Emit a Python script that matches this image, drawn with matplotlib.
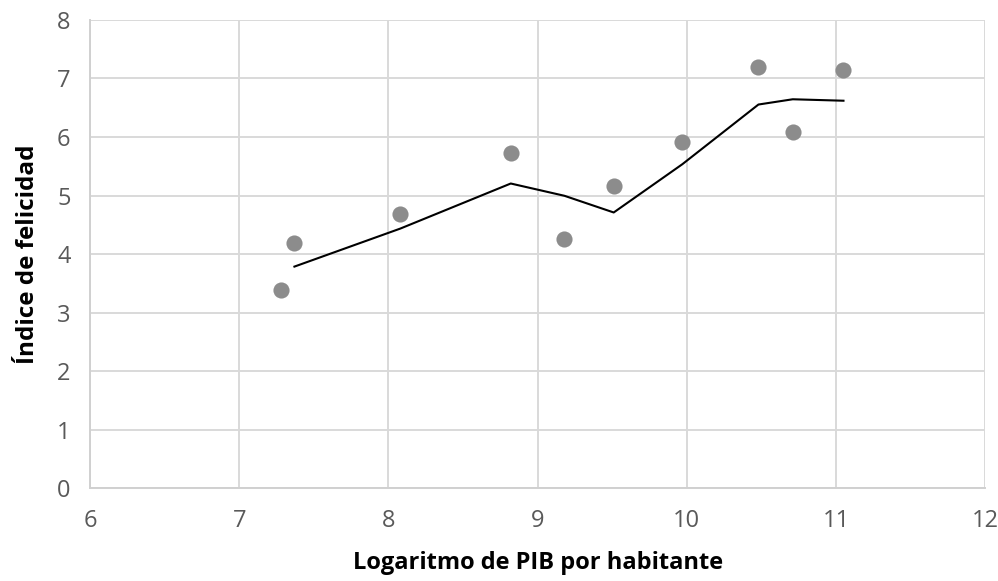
import numpy as np
import pandas as pd
import matplotlib
matplotlib.use('Agg')
import matplotlib.pyplot as plt

# Datos
log_pib = [7.28, 7.37, 8.08, 8.82, 9.18, 9.51, 9.97, 10.48, 10.71, 11.05]
felicidad = [3.38, 4.19, 4.68, 5.73, 4.26, 5.16, 5.91, 7.20, 6.09, 7.15]
x_ticks = [6, 7, 8, 9, 10, 11, 12]
y_ticks = [0, 1, 2, 3, 4, 5, 6, 7, 8]

plt.rcParams['font.family'] = ['Open Sans', 'DejaVu Sans']

# Línea de tendencia: media móvil de 2 periodos (como en Excel)
media_movil = pd.Series(felicidad).rolling(2).mean()

fig = plt.figure(figsize=(9.98, 5.81), dpi=100)
ax = fig.add_axes([0.0902, 0.160, 0.897, 0.8056])

ax.scatter(log_pib, felicidad, s=135, color='#8c8c8c', zorder=3, linewidths=0)
ax.plot(log_pib, media_movil, color='black', linewidth=1.5, zorder=4)

ax.set_xlim(6, 12)
ax.set_ylim(0, 8)
ax.set_xticks(x_ticks)
ax.set_yticks(y_ticks)
ax.grid(True, color='#d9d9d9', linewidth=1.4)
ax.set_axisbelow(True)

for lado in ['top', 'right']:
    ax.spines[lado].set_visible(False)
for lado in ['left', 'bottom']:
    ax.spines[lado].set_color('#d0d0d0')
    ax.spines[lado].set_linewidth(1.4)

ax.tick_params(length=0, labelsize=17, labelcolor='#595959')
ax.tick_params(axis='x', pad=15)
ax.tick_params(axis='y', pad=14)

ax.set_xlabel('Logaritmo de PIB por habitante', fontsize=17, fontweight='bold', labelpad=13)
ax.set_ylabel('Índice de felicidad', fontsize=17.5, fontweight='bold', labelpad=12)

fig.savefig('out.png', dpi=100)
